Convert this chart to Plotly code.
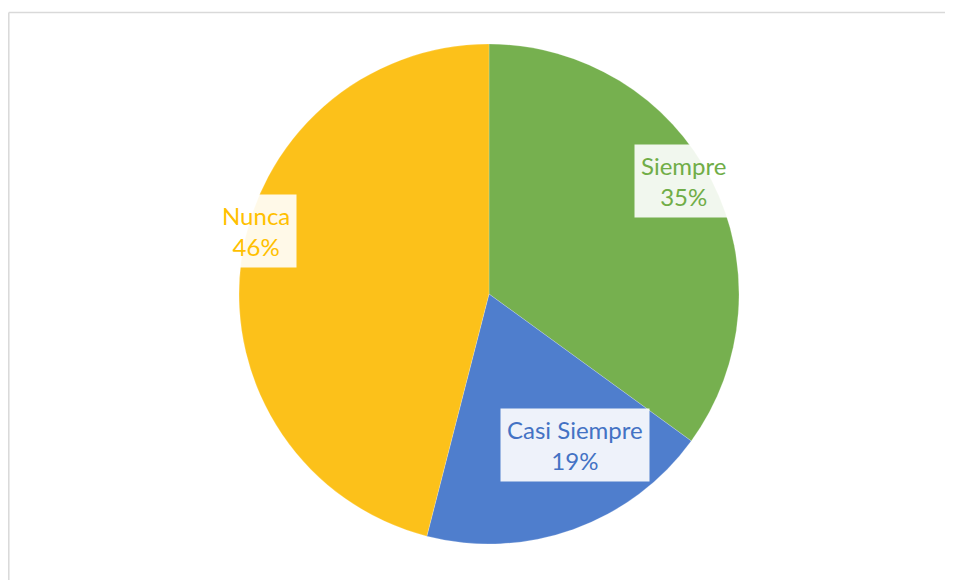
import plotly.graph_objects as go

categories = ["Siempre", "Casi Siempre", "Nunca"]
values = [35, 19, 46]
slice_colors = ["#76B04F", "#4F7ECD", "#FCC11A"]
text_colors = ["#70AD47", "#4472C4", "#FFC000"]

W, H = 953, 580
OFF = 8  # browser page margin
cx, cy, r = 489 - OFF, 294 - OFF, 250

fig = go.Figure()
fig.add_trace(go.Pie(
    labels=categories,
    values=values,
    sort=False,
    direction="clockwise",
    rotation=0,
    marker=dict(colors=slice_colors, line=dict(color="rgba(255,255,255,0.25)", width=0.8)),
    textinfo="none",
    hoverinfo="label+percent",
    showlegend=False,
    domain=dict(x=[(cx - r) / W, (cx + r) / W], y=[(H - cy - r) / H, (H - cy + r) / H]),
))

total = sum(values)
label_pos = [(683, 181), (575, 445), (256, 231)]
for cat, v, col, (px, py) in zip(categories, values, text_colors, label_pos):
    fig.add_annotation(
        x=(px - OFF) / W, y=1 - (py - OFF) / H, xref="paper", yref="paper",
        text=f"{cat}<br>{round(100 * v / total)}%",
        showarrow=False,
        font=dict(family="Lato, Open Sans, sans-serif", size=24, color=col),
        bgcolor="rgba(255,255,255,0.9)",
        borderpad=6,
        xanchor="center", yanchor="middle",
    )

# chart frame (top and left edges visible)
fy = 1 - (12.5 - OFF) / H
fx = 0.8 / W
fig.add_shape(type="line", xref="paper", yref="paper",
              x0=fx, x1=1, y0=fy, y1=fy,
              line=dict(color="#D9D9D9", width=1.5))
fig.add_shape(type="line", xref="paper", yref="paper",
              x0=fx, x1=fx, y0=0, y1=fy,
              line=dict(color="#D9D9D9", width=1.5))

fig.update_layout(
    width=W, height=H,
    margin=dict(l=0, r=0, t=0, b=0),
    paper_bgcolor="white",
    plot_bgcolor="white",
)

fig.write_html("out.html")
